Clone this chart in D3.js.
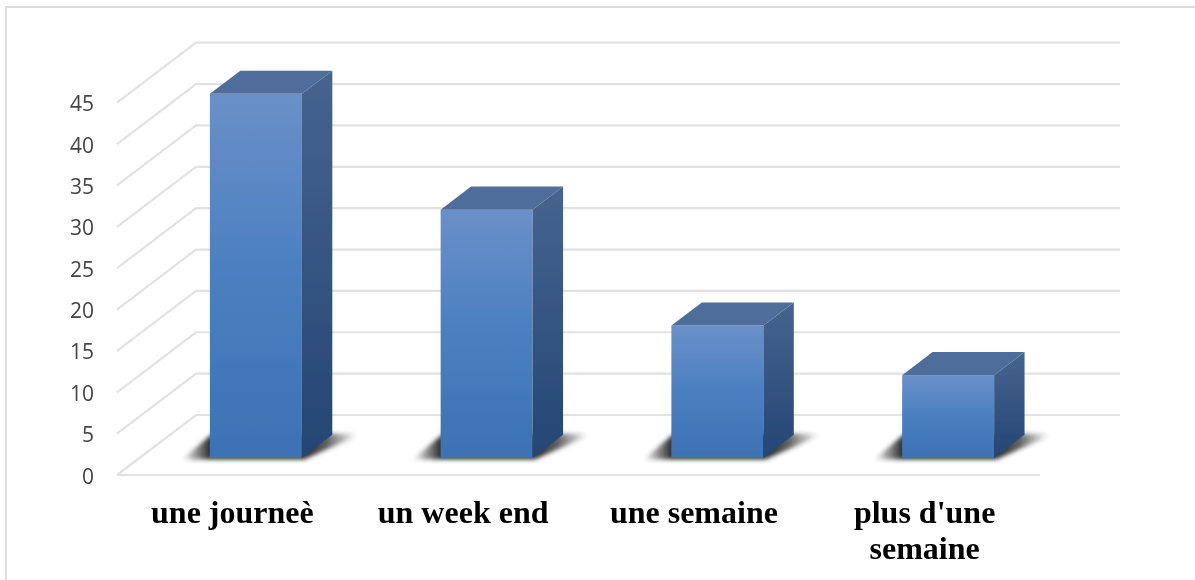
<!DOCTYPE html>
<html><head><meta charset="utf-8">
<script src="https://cdnjs.cloudflare.com/ajax/libs/d3/7.8.5/d3.min.js"></script>
<style>html,body{margin:0;padding:0;background:#fff}svg{display:block}</style>
</head><body><div id="c"></div>
<script>
const categories = ["une journeè", "un week end", "une semaine", "plus d'une semaine"];
const values = [44, 30, 16, 10];
const yTicks = [0, 5, 10, 15, 20, 25, 30, 35, 40, 45];

const W = 1195, H = 580;
const svg = d3.select("#c").append("svg").attr("width", W).attr("height", H);
const defs = svg.append("defs");
const grad = (id, stops) => {
  const g = defs.append("linearGradient").attr("id", id).attr("x1", 0).attr("y1", 0).attr("x2", 0).attr("y2", 1);
  stops.forEach((s, i) => g.append("stop").attr("offset", i / (stops.length - 1)).attr("stop-color", s));
};
grad("front", ["#6a90c8", "#4a7fc0", "#3c72b4"]);
grad("side", ["#46648f", "#244674"]);
const sg = defs.append("linearGradient").attr("id", "shadowFade").attr("x1", 0).attr("y1", 0).attr("x2", 1).attr("y2", 0);
[[0, 0], [0.15, 0.95], [0.7, 0.95], [0.8, 0.75], [0.97, 0]].forEach(([o, a]) =>
  sg.append("stop").attr("offset", o).attr("stop-color", "#2a2a2a").attr("stop-opacity", a));
defs.append("filter").attr("id", "soft").append("feGaussianBlur").attr("stdDeviation", 0.7);
defs.append("filter").attr("id", "textSoft").append("feGaussianBlur").attr("stdDeviation", 0.35);
defs.append("filter").attr("id", "shadow").attr("x", "-30%").attr("y", "-80%").attr("width", "160%").attr("height", "260%")
  .append("feGaussianBlur").attr("stdDeviation", 2.2);

const border = svg.append("g").attr("fill", "none").attr("stroke", "#dcdcdc").attr("stroke-width", 2);
border.append("path").attr("d", d3.line()([[6, 580], [6, 7], [1195, 7]]));

const x = d3.scaleBand().domain(categories).range([117, 1040]);
const y = d3.scaleLinear().domain([0, 45]).range([475, 102.7]);
const backDx = 79, backDy = -60;
const gapDepth = 0.285, depthShare = 0.385;
const barW = 92;

const plot = svg.append("g").attr("filter", "url(#soft)");
const grid = plot.append("g").attr("fill", "none").attr("stroke", "#e2e2e2").attr("stroke-width", 2.2);
yTicks.forEach(t => {
  grid.append("path").attr("d", d3.line()([
    [x.range()[0], y(t)],
    [x.range()[0] + backDx, y(t) + backDy],
    [1120, y(t) + backDy]
  ]));
});
grid.append("path").attr("d", d3.line()([[x.range()[0], y(0)], [x.range()[1], y(0)]]));

const bars = plot.selectAll("g.bar").data(categories).join("g").attr("class", "bar");
bars.each(function (c, i) {
  const g = d3.select(this);
  const ox = backDx * gapDepth, oy = backDy * gapDepth;
  const dx = backDx * depthShare, dy = backDy * depthShare;
  const l = x(c) + x.bandwidth() / 2 - barW / 2 + ox + 1;
  const r = l + barW;
  const b = y(0) + oy;
  const t = y(values[i]) + oy;
  g.append("path").attr("filter", "url(#shadow)").attr("fill", "url(#shadowFade)")
    .attr("d", d3.line()([[l - 28, b + 1.5], [r + 2, b + 1.5], [r + dx + 30, b + dy - 1], [l + dx - 28, b + dy - 1]]));
  g.append("rect").attr("x", l).attr("y", t).attr("width", barW).attr("height", b - t).attr("fill", "url(#front)");
  g.append("path").attr("fill", "url(#side)")
    .attr("d", d3.line()([[r, t], [r + dx, t + dy], [r + dx, b + dy], [r, b]]));
  g.append("path").attr("fill", "#4f6d9a")
    .attr("d", d3.line()([[l, t], [l + dx, t + dy], [r + dx, t + dy], [r, t]]));
});

svg.append("g").attr("filter", "url(#textSoft)").selectAll("text").data(yTicks).join("text")
  .attr("x", 94).attr("y", d => y(d) + 1).attr("dy", "0.36em").attr("text-anchor", "end")
  .attr("font-family", "'Open Sans', sans-serif").attr("font-size", 21).attr("fill", "#444")
  .text(d => d);

const labelLines = [["une journeè"], ["un week end"], ["une semaine"], ["plus d'une", "semaine"]];
const labels = svg.append("g").attr("filter", "url(#textSoft)").attr("font-family", "'Liberation Serif', serif").attr("font-weight", "bold")
  .attr("font-size", 32).attr("fill", "#000").attr("text-anchor", "middle");
categories.forEach((c, i) => {
  labelLines[i].forEach((s, j) => {
    labels.append("text").attr("x", x(c) + x.bandwidth() / 2).attr("y", 523 + j * 36).text(s);
  });
});
</script></body></html>
